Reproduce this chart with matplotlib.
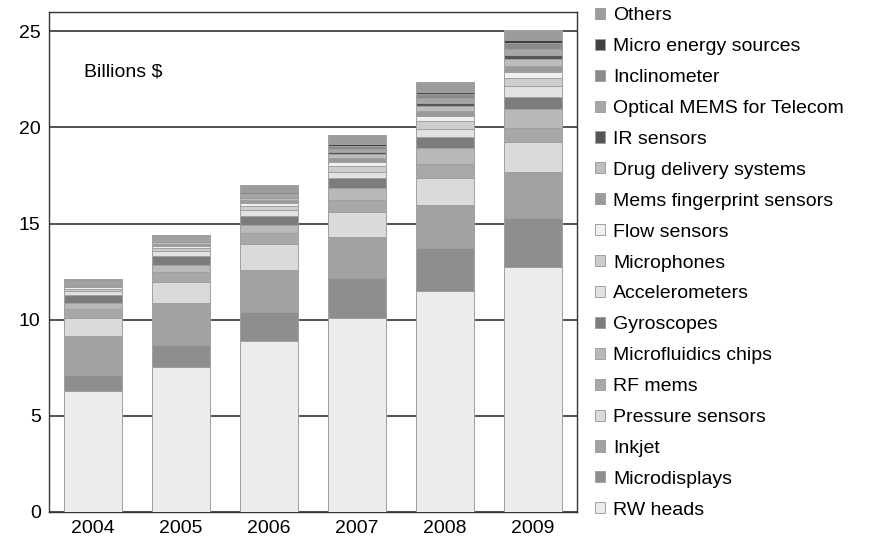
import numpy as np
import matplotlib
matplotlib.use("Agg")
from matplotlib import pyplot as plt

plt.rcParams['font.family'] = ['Liberation Sans', 'DejaVu Sans']

years = ['2004', '2005', '2006', '2007', '2008', '2009']

# segments, bottom to top (billions $)
categories = ['RW heads', 'Microdisplays', 'Inkjet', 'Pressure sensors', 'RF mems',
              'Microfluidics chips', 'Gyroscopes', 'Accelerometers', 'Microphones',
              'Flow sensors', 'Mems fingerprint sensors', 'Drug delivery systems',
              'IR sensors', 'Optical MEMS for Telecom', 'Inclinometer',
              'Micro energy sources', 'Others']
rw_heads = [6.3, 7.55, 8.9, 10.1, 11.5, 12.75]
microdisplays = [0.8, 1.13, 1.5, 2.05, 2.25, 2.55]
inkjet = [2.05, 2.2, 2.2, 2.15, 2.2, 2.4]
pressure = [0.95, 1.1, 1.35, 1.3, 1.43, 1.53]
rf_mems = [0.45, 0.5, 0.55, 0.6, 0.7, 0.75]
microfluidics = [0.3, 0.35, 0.45, 0.65, 0.85, 1.0]
gyroscopes = [0.45, 0.5, 0.45, 0.5, 0.55, 0.6]
accelerometers = [0.2, 0.25, 0.3, 0.35, 0.45, 0.55]
microphones = [0.1, 0.15, 0.2, 0.3, 0.4, 0.45]
flow = [0.1, 0.12, 0.15, 0.2, 0.25, 0.3]
fingerprint = [0.08, 0.1, 0.15, 0.2, 0.25, 0.3]
drug_delivery = [0.05, 0.08, 0.12, 0.2, 0.3, 0.4]
ir_sensors = [0.04, 0.05, 0.08, 0.1, 0.15, 0.2]
optical = [0.08, 0.1, 0.15, 0.2, 0.25, 0.3]
inclinometer = [0.05, 0.08, 0.1, 0.15, 0.2, 0.3]
micro_energy = [0.02, 0.03, 0.05, 0.1, 0.1, 0.15]
others = [0.08, 0.12, 0.29, 0.45, 0.55, 0.55]

series = [rw_heads, microdisplays, inkjet, pressure, rf_mems, microfluidics,
          gyroscopes, accelerometers, microphones, flow, fingerprint,
          drug_delivery, ir_sensors, optical, inclinometer, micro_energy, others]
colors = ['#ececec', '#8e8e8e', '#a2a2a2', '#dadada', '#a8a8a8', '#b9b9b9',
          '#7c7c7c', '#e2e2e2', '#cdcdcd', '#f0f0f0', '#9a9a9a', '#bdbdbd',
          '#555555', '#a6a6a6', '#8a8a8a', '#404040', '#9c9c9c']

fig = plt.figure(figsize=(8.83, 5.46), dpi=100)
ax = fig.add_axes([0.0555, 0.0623, 0.598, 0.9157])

x = np.arange(len(years))
bottom = np.zeros(len(years))
handles = []
for name, vals, c in zip(categories, series, colors):
    b = ax.bar(x, vals, 0.66, bottom=bottom, color=c, edgecolor='#a0a0a0',
               linewidth=0.7, label=name, zorder=3)
    handles.append(b)
    bottom += np.array(vals)

ax.set_xlim(-0.5, 5.5)
ax.set_ylim(0, 26)
ax.set_yticks([0, 5, 10, 15, 20, 25])
ax.set_xticks(x)
ax.set_xticklabels(years)
ax.tick_params(length=0, labelsize=14, pad=6)
ax.yaxis.grid(True, color='#333333', linewidth=1.2, zorder=0)
for s in ax.spines.values():
    s.set_color('#333333')
    s.set_linewidth(1.0)

ax.text(-0.1, 22.9, 'Billions $', fontsize=14, va='center', ha='left')

leg = ax.legend(handles[::-1], categories[::-1], loc='upper left',
                bbox_to_anchor=(1.02, 1.025), frameon=False, fontsize=14,
                handlelength=0.5, handleheight=0.5, handletextpad=0.4,
                labelspacing=0.715, borderaxespad=0)

fig.savefig('out.png', dpi=100)
